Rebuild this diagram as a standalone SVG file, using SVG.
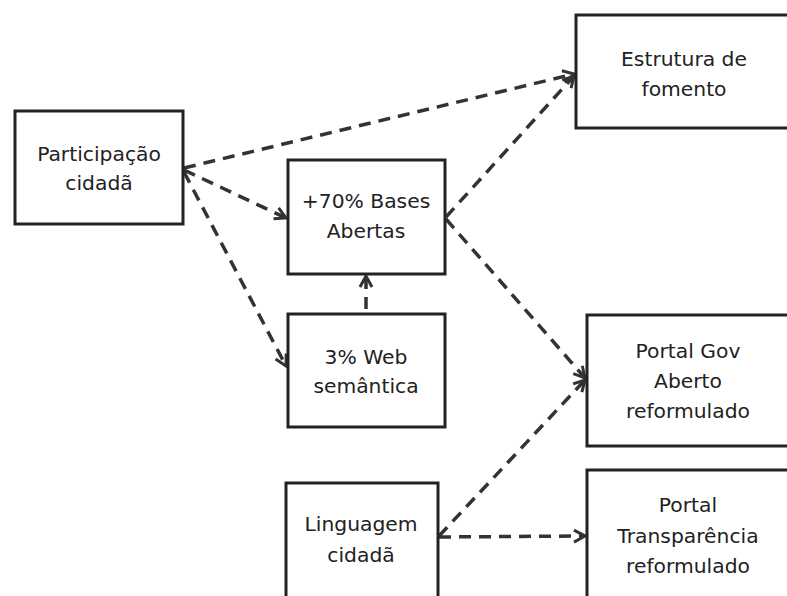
<svg xmlns="http://www.w3.org/2000/svg" width="787" height="596" viewBox="0 0 787 596">
<style>
.box{fill:#fff;stroke:#222;stroke-width:3}
.t{font-family:"DejaVu Sans","Liberation Sans",sans-serif;font-size:20.3px;fill:#222;text-anchor:middle}
.c{fill:none;stroke:#333;stroke-width:3.5;stroke-dasharray:12 8}
</style>
<defs>
<marker id="ah" markerUnits="userSpaceOnUse" markerWidth="16" markerHeight="16" viewBox="0 0 16 16" refX="14" refY="8" orient="auto">
<path d="M3,2 L14,8 L3,14" fill="none" stroke="#333" stroke-width="3"/>
</marker>
</defs>
<rect width="787" height="596" fill="#fff"/>
<g id="connectors">
<line class="c" x1="184" y1="168" x2="574" y2="74" marker-end="url(#ah)"/>
<line class="c" x1="184" y1="170" x2="286" y2="218" marker-end="url(#ah)"/>
<line class="c" x1="184" y1="172" x2="286" y2="366" marker-end="url(#ah)"/>
<line class="c" x1="446" y1="217" x2="574" y2="76" marker-end="url(#ah)"/>
<line class="c" x1="446" y1="219" x2="585" y2="378" marker-end="url(#ah)"/>
<line class="c" x1="366" y1="313" x2="366" y2="276" marker-end="url(#ah)" stroke-dashoffset="-4"/>
<line class="c" x1="439" y1="536" x2="585" y2="380" marker-end="url(#ah)"/>
<line class="c" x1="439" y1="537" x2="585" y2="536" marker-end="url(#ah)"/>
</g>
<g id="participacao">
<rect class="box" x="15" y="111" width="168" height="113"/>
<text class="t" x="99" y="161">Participação</text>
<text class="t" x="99" y="190">cidadã</text>
</g>
<g id="bases">
<rect class="box" x="288" y="160" width="157" height="114"/>
<text class="t" x="366" y="208">+70% Bases</text>
<text class="t" x="366" y="238">Abertas</text>
</g>
<g id="web">
<rect class="box" x="288" y="314" width="157" height="113"/>
<text class="t" x="366" y="364">3% Web</text>
<text class="t" x="366" y="393">semântica</text>
</g>
<g id="linguagem">
<rect class="box" x="286" y="483" width="152" height="130"/>
<text class="t" x="361" y="531">Linguagem</text>
<text class="t" x="361" y="562">cidadã</text>
</g>
<g id="estrutura">
<rect class="box" x="576" y="15" width="230" height="113"/>
<text class="t" x="684" y="66">Estrutura de</text>
<text class="t" x="684" y="96">fomento</text>
</g>
<g id="portalgov">
<rect class="box" x="587" y="315" width="230" height="131"/>
<text class="t" x="688" y="358">Portal Gov</text>
<text class="t" x="688" y="388">Aberto</text>
<text class="t" x="688" y="418">reformulado</text>
</g>
<g id="transparencia">
<rect class="box" x="587" y="470" width="230" height="140"/>
<text class="t" x="688" y="512">Portal</text>
<text class="t" x="688" y="543">Transparência</text>
<text class="t" x="688" y="573">reformulado</text>
</g>
</svg>
